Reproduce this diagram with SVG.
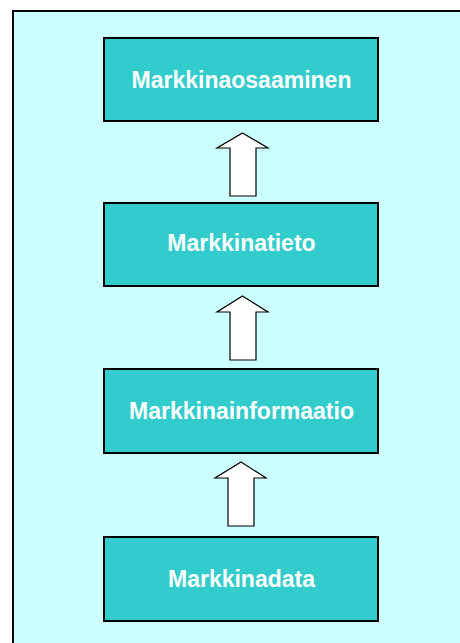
<svg xmlns="http://www.w3.org/2000/svg" width="460" height="643" viewBox="0 0 460 643">
  <style>
    .frame { fill: #CCFFFF; stroke: #000000; stroke-width: 2; }
    .box { fill: #33CCCC; stroke: #000000; stroke-width: 2; }
    .label { font-family: "Liberation Sans", Arial, sans-serif; font-weight: bold; font-size: 23px; fill: #FFFFFF; text-anchor: middle; }
    .arrow { fill: #FFFFFF; stroke: #000000; stroke-width: 1.2; stroke-linejoin: miter; }
  </style>
  <rect x="0" y="0" width="460" height="643" fill="#FFFFFF"/>
  <rect class="frame" x="13" y="11" width="460" height="650"/>

  <g id="connectors">
    <polygon class="arrow" points="242.5,133 268,148 256,148 256,196 230,196 230,148 217,148"/>
    <polygon class="arrow" points="242.5,296 268,312 256,312 256,360 230,360 230,312 217,312"/>
    <polygon class="arrow" points="241,462 266,478 254,478 254,526 228,526 228,478 215,478"/>
  </g>

  <g id="markkinaosaaminen">
    <rect class="box" x="104" y="38" width="274" height="83"/>
    <text class="label" x="241.5" y="88">Markkinaosaaminen</text>
  </g>
  <g id="markkinatieto">
    <rect class="box" x="104" y="203" width="274" height="83"/>
    <text class="label" x="241.5" y="251">Markkinatieto</text>
  </g>
  <g id="markkinainformaatio">
    <rect class="box" x="104" y="369" width="274" height="84"/>
    <text class="label" x="241.5" y="419">Markkinainformaatio</text>
  </g>
  <g id="markkinadata">
    <rect class="box" x="104" y="537" width="274" height="84"/>
    <text class="label" x="241.5" y="587">Markkinadata</text>
  </g>
</svg>
